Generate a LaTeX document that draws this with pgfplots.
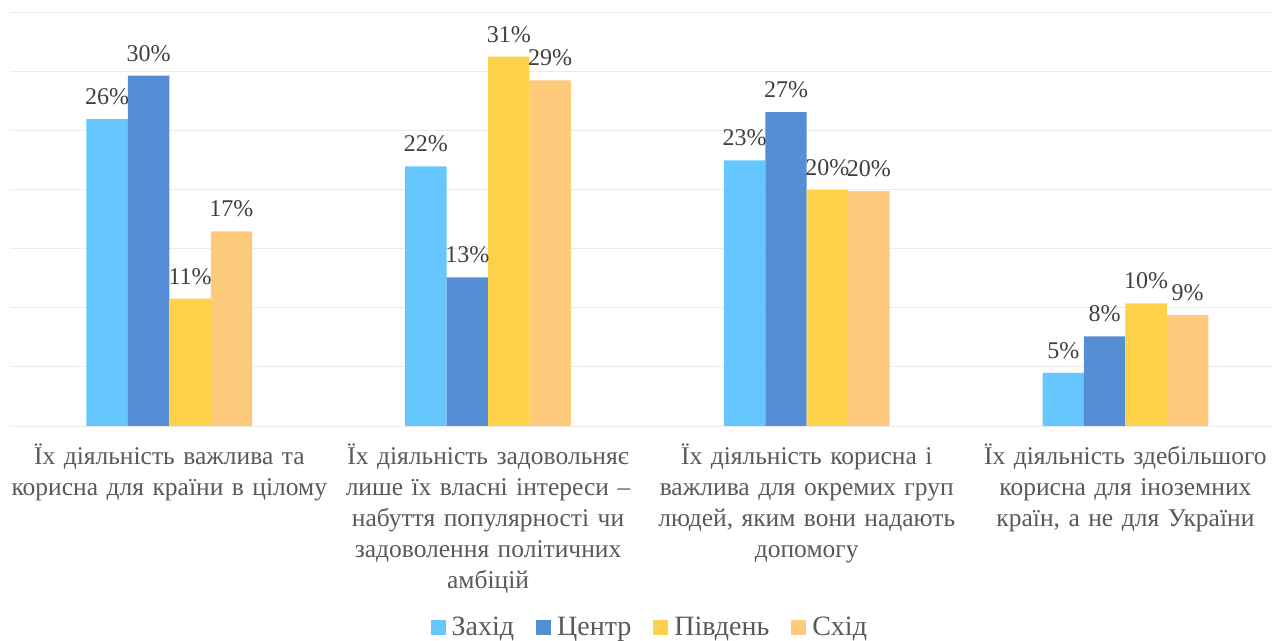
\documentclass[border=0pt]{standalone}
\usepackage{fontspec}
\setmainfont{Liberation Serif}
\usepackage{pgfplots}
\pgfplotsset{compat=1.18}
\definecolor{cA}{HTML}{66C7FF}
\definecolor{cB}{HTML}{558ED5}
\definecolor{cC}{HTML}{FED248}
\definecolor{cD}{HTML}{FDCB7B}
\definecolor{tgray}{HTML}{595959}
\definecolor{lgray}{HTML}{404040}
\definecolor{grid}{HTML}{EBEBEB}
\begin{document}
\begin{tikzpicture}
\useasboundingbox (0,0) rectangle (1272bp,641bp);
\clip (0,0) rectangle (1272bp,641bp);
\begin{axis}[
  at={(10bp,215bp)}, anchor=south west,
  scale only axis, width=1262bp, height=413bp,
  xmin=-0.5, xmax=3.46, ymin=0, ymax=35,
  ybar=0pt, bar width=0.13,
  axis x line*=bottom, axis y line*=left,
  x axis line style={draw=grid!80!black!30, line width=1bp},
  y axis line style={draw=none},
  ytick={0,5,...,35}, yticklabels=\empty, ytick style={draw=none},
  ymajorgrids, major grid style={draw=grid, line width=1bp},
  xtick={0,1,2,3}, x tick style={draw=none},
  xticklabels={
    {Їх діяльність важлива та\\корисна для країни в цілому},
    {Їх діяльність задовольняє\\лише їх власні інтереси –\\набуття популярності чи\\задоволення політичних\\амбіцій},
    {Їх діяльність корисна і\\важлива для окремих груп\\людей, яким вони надають\\допомогу},
    {Їх діяльність здебільшого\\корисна для іноземних\\країн, а не для України}},
  xticklabel style={text width=316bp, align=center, anchor=north,
    font=\fontsize{25.5bp}{31bp}\selectfont, text=tgray, yshift=-10bp},
  point meta=explicit symbolic,
  nodes near coords,
  nodes near coords style={font=\fontsize{24bp}{26bp}\selectfont, text=lgray, anchor=south, inner sep=2bp, yshift=12bp},
  every axis plot/.append style={draw=none},
  legend style={at={(0.507,-0.487)}, anchor=center, draw=none, fill=none,
    legend columns=-1, font=\fontsize{28bp}{30bp}\selectfont, text=tgray,
    /tikz/every even column/.append style={column sep=20bp},
    /tikz/every odd column/.append style={column sep=4bp}},
  legend image code/.code={\fill[#1] (0bp,-7.5bp) rectangle (15bp,7.5bp);},
]
\addplot[fill=cA] coordinates {(0,26.0)[26\%] (1,22.0)[22\%] (2,22.5)[23\%] (3,4.5)[5\%]};
\addplot[fill=cB] coordinates {(0,29.7)[30\%] (1,12.6)[13\%] (2,26.6)[27\%] (3,7.6)[8\%]};
\addplot[fill=cC] coordinates {(0,10.8)[11\%] (1,31.3)[31\%] (2,20.0)[20\%] (3,10.4)[10\%]};
\addplot[fill=cD] coordinates {(0,16.5)[17\%] (1,29.3)[29\%] (2,19.9)[20\%] (3,9.4)[9\%]};
\legend{Захід, Центр, Південь, Схід}
\end{axis}
\end{tikzpicture}
\end{document}
